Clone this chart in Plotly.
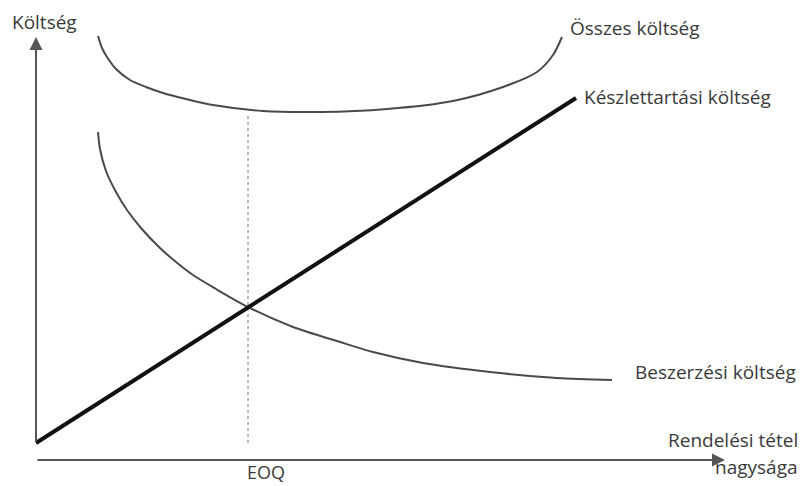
import plotly.graph_objects as go

# Order quantity (q) and cost (c) values
hold_q = [0, 540]
hold_c = [0, 345]

order_q = [62, 64, 70, 80, 91, 105, 124, 140, 157, 180, 212, 257, 304, 337, 387, 454, 521, 576]
order_c = [311, 294, 272, 251, 233, 215, 195, 181, 168, 154, 136, 116, 101, 91, 80, 71, 65, 63]

total_q = [62, 66, 71, 80, 94, 110, 127, 150, 177, 227, 284, 351, 417, 467, 501, 517, 526]
total_c = [407, 395, 386, 374, 363, 356, 350, 344, 338, 332, 331, 334, 342, 356, 371, 388, 406]

eoq_q = [212, 212]
eoq_c = [0, 327]

labels = {
    "y": "Költség",
    "total": "Összes költség",
    "hold": "Készlettartási költség",
    "order": "Beszerzési költség",
    "x1": "Rendelési tétel",
    "x2": "nagysága",
    "eoq": "EOQ",
}

FONT = "Open Sans"
TXT = "#3a3a3a"

fig = go.Figure()
fig.add_trace(go.Scatter(x=eoq_q, y=eoq_c, mode="lines",
                         line=dict(color="#777777", width=1, dash="dot"), hoverinfo="skip"))
fig.add_trace(go.Scatter(x=total_q, y=total_c, mode="lines", line_shape="spline",
                         line=dict(color="#4a4a4a", width=2, smoothing=0.8), hoverinfo="skip"))
fig.add_trace(go.Scatter(x=order_q, y=order_c, mode="lines", line_shape="spline",
                         line=dict(color="#4a4a4a", width=2, smoothing=0.8), hoverinfo="skip"))
fig.add_trace(go.Scatter(x=hold_q, y=hold_c, mode="lines",
                         line=dict(color="#111111", width=4), hoverinfo="skip"))

# axes with arrows
fig.add_annotation(x=0, y=406, ax=0, ay=0, xref="x", yref="y", axref="x", ayref="y",
                   showarrow=True, arrowhead=2, arrowsize=1.3, arrowwidth=2,
                   arrowcolor="#555555", text="")
fig.add_annotation(x=689, y=-17, ax=0, ay=-17, xref="x", yref="y", axref="x", ayref="y",
                   showarrow=True, arrowhead=2, arrowsize=1.3, arrowwidth=2,
                   arrowcolor="#555555", text="")

def label(text, x, y, xanchor, size=19):
    fig.add_annotation(x=x, y=y, xref="x", yref="y", text=text, showarrow=False,
                       xanchor=xanchor, yanchor="middle",
                       font=dict(family=FONT, size=size, color=TXT))

label(labels["y"], -26, 421, "left")
label(labels["total"], 532, 415, "left")
label(labels["hold"], 546, 346, "left")
label(labels["order"], 597, 71, "left")
label(labels["x1"], 764, 3, "right")
label(labels["x2"], 764, -24, "right")
label(labels["eoq"], 230, -29, "center", size=18)

fig.update_layout(
    width=804, height=486,
    margin=dict(l=0, r=0, t=0, b=0),
    paper_bgcolor="white", plot_bgcolor="white",
    showlegend=False,
    xaxis=dict(range=[-36, 768], visible=False, fixedrange=True),
    yaxis=dict(range=[-43, 443], visible=False, fixedrange=True),
)

fig.write_html("out.html", config={"displayModeBar": False},
               post_script="document.body.style.margin='0';document.body.style.overflow='hidden';")
